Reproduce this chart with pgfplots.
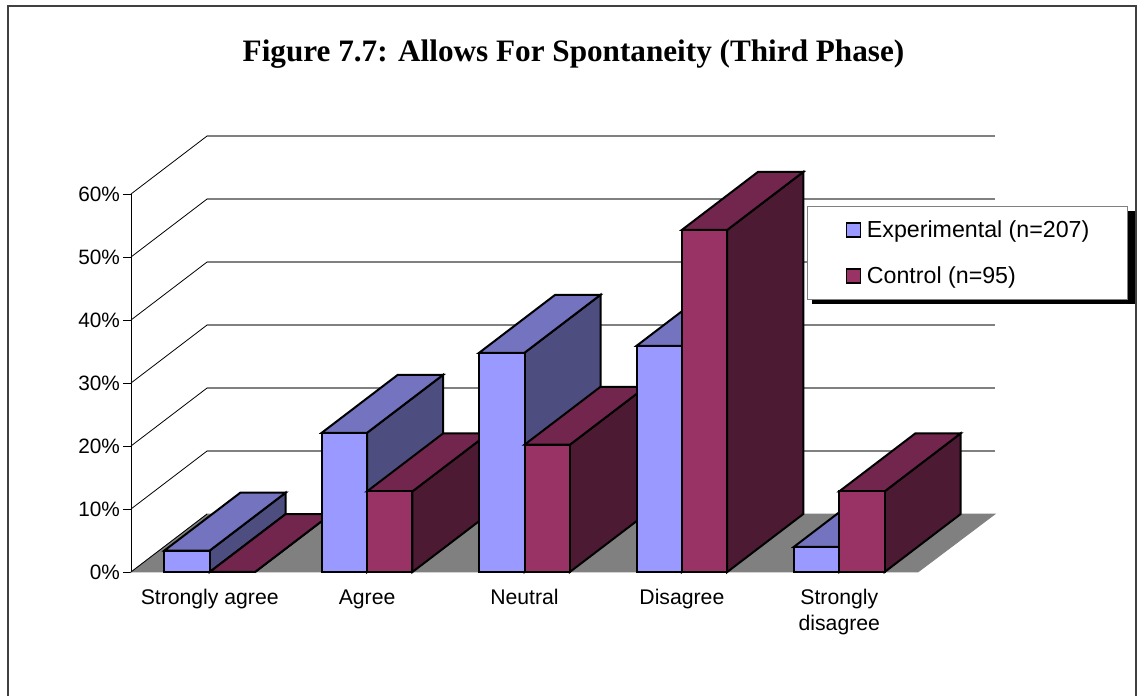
\documentclass[border=0pt]{standalone}
\usepackage{pgfplots}
\pgfplotsset{compat=1.18}
\usepackage{fontspec}
\setmainfont{Liberation Sans}
\newfontfamily\titlefont{Liberation Serif}
\definecolor{expF}{HTML}{9999FF}
\definecolor{expT}{HTML}{7373BF}
\definecolor{expS}{HTML}{4D4D80}
\definecolor{ctlF}{HTML}{993366}
\definecolor{ctlT}{HTML}{73264D}
\definecolor{ctlS}{HTML}{4D1A33}
\definecolor{wallg}{HTML}{808080}
% depth of the 3D projection, in data units
\def\dX{0.483}
\def\dY{9.2}
\newcommand\threedbar[6]{%
  % #1 left x, #2 right x, #3 value, #4 front, #5 top, #6 side
  \pgfmathsetmacro\xa{#1}\pgfmathsetmacro\xb{#2}
  \pgfmathsetmacro\xc{#1+\dX}\pgfmathsetmacro\xd{#2+\dX}
  \pgfmathsetmacro\yt{#3+\dY}
  \edef\temp{%
  \noexpand\addplot[forget plot,draw=black,line width=2pt,fill=#6] coordinates {(\xb,0) (\xd,\dY) (\xd,\yt) (\xb,#3)} -- cycle;
  \noexpand\addplot[forget plot,draw=black,line width=2pt,fill=#5] coordinates {(\xa,#3) (\xc,\yt) (\xd,\yt) (\xb,#3)} -- cycle;
  \noexpand\addplot[forget plot,draw=black,line width=2pt,fill=#4] coordinates {(\xa,0) (\xa,#3) (\xb,#3) (\xb,0)} -- cycle;
  }\temp}
\begin{document}
\begin{tikzpicture}
\useasboundingbox (-131pt,-124pt) rectangle (1007pt,572pt);
\draw[color=black!75,line width=1.6pt] (-123pt,-124pt) -- (-123pt,566pt) -- (1005pt,566pt) -- (1005pt,-124pt);
\begin{axis}[
  scale only axis, width=787pt, height=378pt,
  xmin=-0.5, xmax=4.5, ymin=0, ymax=60,
  clip=false, no markers,
  axis y line*=left, axis x line*=bottom,
  x axis line style={draw=wallg,-,line width=1pt},
  y axis line style={draw=black,-,line width=0.9pt},
  xtick={0,1,2,3,4},
  xticklabels={Strongly agree,Agree,Neutral,Disagree,{Strongly\\disagree}},
  x tick label style={align=center,anchor=north,yshift=-6pt,font=\fontsize{21.2}{26}\selectfont},
  major x tick style={draw=none},
  ytick={0,10,20,30,40,50,60},
  yticklabel={\pgfmathprintnumber{\tick}\%},
  /pgf/number format/assume math mode=true,
  y tick label style={font=\fontsize{20.8}{24}\selectfont,xshift=0.5pt},
  y tick style={draw=black,line width=0.9pt},
  tick align=outside, major tick length=8pt,
  title={Figure 7.7: Allows For Spontaneity (Third Phase)},
  title style={at={(0.5623,1)},anchor=center,yshift=134pt,font=\titlefont\bfseries\fontsize{31.2}{36}\selectfont},
  legend style={at={(0.859,0.968)},anchor=north west,draw=wallg,line width=1pt,fill=white,
    inner xsep=38pt,inner ysep=14pt,row sep=28pt,
    font=\fontsize{23.2}{27}\selectfont,
    nodes={inner sep=0pt}},
  legend cell align=left,
  legend columns=1,
]
% floor, back-wall gridlines and their side-wall diagonals
\addplot[forget plot,fill=wallg,draw=wallg,line width=0.8pt] coordinates {(-0.5,0) (-0.017,9.2) (4.989,9.2) (4.5,0)} -- cycle;
\addplot[forget plot,draw=black,line width=0.8pt] coordinates {(-0.5,0) (-0.017,9.2)};
\addplot[forget plot,draw=black,line width=0.8pt] coordinates {(-0.5,10) (-0.017,19.2)};
\addplot[forget plot,draw=wallg,line width=1.2pt] coordinates {(-0.017,19.2) (4.989,19.2)};
\addplot[forget plot,draw=black,line width=0.8pt] coordinates {(-0.5,20) (-0.017,29.2)};
\addplot[forget plot,draw=wallg,line width=1.2pt] coordinates {(-0.017,29.2) (4.989,29.2)};
\addplot[forget plot,draw=black,line width=0.8pt] coordinates {(-0.5,30) (-0.017,39.2)};
\addplot[forget plot,draw=wallg,line width=1.2pt] coordinates {(-0.017,39.2) (4.989,39.2)};
\addplot[forget plot,draw=black,line width=0.8pt] coordinates {(-0.5,40) (-0.017,49.2)};
\addplot[forget plot,draw=wallg,line width=1.2pt] coordinates {(-0.017,49.2) (4.989,49.2)};
\addplot[forget plot,draw=black,line width=0.8pt] coordinates {(-0.5,50) (-0.017,59.2)};
\addplot[forget plot,draw=wallg,line width=1.2pt] coordinates {(-0.017,59.2) (4.989,59.2)};
\addplot[forget plot,draw=black,line width=0.8pt] coordinates {(-0.5,60) (-0.017,69.2)};
\addplot[forget plot,draw=wallg,line width=1.2pt] coordinates {(-0.017,69.2) (4.989,69.2)};
% bars: left edge, right edge, value
\threedbar{-0.288}{0}{3.4}{expF}{expT}{expS}
\threedbar{0}{0.288}{0}{ctlF}{ctlT}{ctlS}
\threedbar{0.712}{1}{22.1}{expF}{expT}{expS}
\threedbar{1}{1.288}{12.8}{ctlF}{ctlT}{ctlS}
\threedbar{1.712}{2}{34.8}{expF}{expT}{expS}
\threedbar{2}{2.288}{20.2}{ctlF}{ctlT}{ctlS}
\threedbar{2.712}{3}{35.9}{expF}{expT}{expS}
\threedbar{3}{3.288}{54.3}{ctlF}{ctlT}{ctlS}
\threedbar{3.712}{4}{4.0}{expF}{expT}{expS}
\threedbar{4}{4.288}{12.8}{ctlF}{ctlT}{ctlS}
% legend shadow, beneath the legend box
\fill[black] (axis cs:3.827,57.3) rectangle (axis cs:5.879,42.54);
\addlegendimage{legend image code/.code={\draw[fill=expF,draw=black,line width=1.8pt] (2pt,-7pt) rectangle (16pt,7pt);\path (22pt,0pt);}}
\addlegendentry{Experimental (n=207)}
\addlegendimage{legend image code/.code={\draw[fill=ctlF,draw=black,line width=1.8pt] (2pt,-7pt) rectangle (16pt,7pt);\path (22pt,0pt);}}
\addlegendentry{Control (n=95)}
\end{axis}
\end{tikzpicture}
\end{document}
